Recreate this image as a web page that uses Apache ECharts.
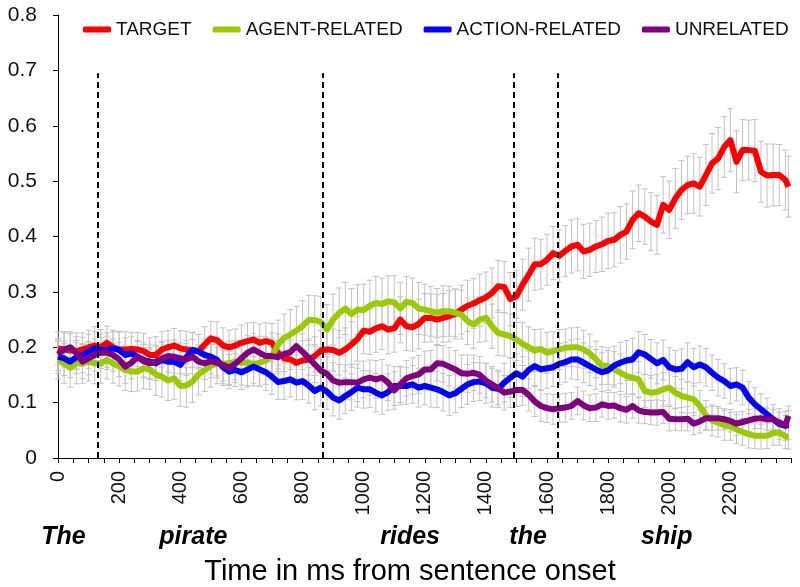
<!DOCTYPE html>
<html><head><meta charset="utf-8">
<script src="https://cdn.jsdelivr.net/npm/echarts@6/dist/echarts.min.js"></script>
<style>html,body{margin:0;padding:0;background:#fff}#c{width:800px;height:587px}</style>
</head><body><div id="c"></div>
<script>
const times = [0,20,40,60,80,100,120,140,160,180,200,220,240,260,280,300,320,340,360,380,400,420,440,460,480,500,520,540,560,580,600,620,640,660,680,700,720,740,760,780,800,820,840,860,880,900,920,940,960,980,1000,1020,1040,1060,1080,1100,1120,1140,1160,1180,1200,1220,1240,1260,1280,1300,1320,1340,1360,1380,1400,1420,1440,1460,1480,1500,1520,1540,1560,1580,1600,1620,1640,1660,1680,1700,1720,1740,1760,1780,1800,1820,1840,1860,1880,1900,1920,1940,1960,1980,2000,2020,2040,2060,2080,2100,2120,2140,2160,2180,2200,2220,2240,2260,2280,2300,2320,2340,2360,2380,2390];

const target = [.198,.196,.194,.193,.196,.200,.203,.200,.208,.200,.196,.196,.197,.196,.193,.186,.186,.196,.200,.203,.198,.196,.195,.193,.205,.216,.213,.203,.200,.203,.208,.211,.214,.208,.211,.208,.190,.180,.178,.172,.176,.178,.184,.194,.196,.195,.190,.196,.205,.215,.230,.228,.234,.238,.232,.234,.250,.238,.236,.242,.253,.253,.250,.253,.256,.260,.268,.275,.279,.285,.290,.298,.310,.309,.287,.292,.313,.331,.350,.350,.358,.370,.365,.374,.382,.385,.373,.376,.382,.386,.392,.394,.403,.409,.430,.442,.436,.427,.421,.457,.448,.469,.484,.493,.496,.490,.511,.532,.541,.562,.574,.535,.556,.556,.555,.517,.510,.511,.511,.502,.490];

const agentRelated = [.177,.171,.163,.171,.171,.174,.171,.171,.177,.171,.165,.159,.156,.156,.162,.160,.151,.147,.140,.144,.130,.131,.138,.151,.159,.166,.171,.170,.171,.174,.172,.172,.170,.172,.176,.184,.205,.217,.223,.230,.238,.249,.249,.246,.232,.250,.262,.270,.260,.268,.267,.275,.280,.278,.283,.281,.270,.282,.280,.270,.268,.265,.262,.265,.265,.262,.259,.247,.241,.250,.253,.238,.226,.223,.220,.214,.206,.200,.194,.197,.190,.193,.196,.199,.200,.200,.196,.189,.178,.167,.166,.160,.154,.148,.145,.142,.121,.118,.119,.124,.127,.118,.112,.109,.106,.094,.077,.068,.064,.059,.057,.052,.047,.043,.040,.040,.040,.045,.046,.039,.038];

const actionRelated = [.183,.180,.174,.182,.186,.192,.198,.195,.195,.198,.195,.186,.189,.183,.177,.174,.171,.177,.174,.174,.168,.182,.195,.192,.186,.183,.177,.164,.156,.159,.155,.160,.165,.160,.155,.147,.137,.139,.142,.136,.139,.131,.121,.127,.120,.109,.104,.112,.119,.127,.124,.124,.118,.113,.119,.130,.130,.130,.133,.127,.130,.127,.124,.119,.113,.117,.125,.133,.137,.138,.135,.127,.125,.136,.145,.153,.147,.159,.166,.160,.162,.164,.170,.173,.178,.178,.172,.166,.160,.155,.158,.167,.172,.176,.178,.191,.187,.179,.171,.177,.164,.160,.161,.173,.164,.169,.164,.154,.145,.139,.130,.133,.127,.109,.097,.088,.079,.070,.061,.058,.060];

const unrelated = [.187,.196,.200,.190,.174,.180,.186,.190,.190,.186,.178,.165,.172,.182,.175,.171,.174,.180,.184,.183,.180,.178,.183,.174,.171,.175,.172,.168,.163,.170,.180,.190,.196,.190,.184,.184,.182,.188,.191,.202,.192,.181,.169,.158,.152,.140,.136,.137,.137,.136,.142,.145,.142,.145,.136,.122,.133,.144,.148,.151,.160,.160,.171,.170,.165,.160,.153,.152,.154,.150,.140,.133,.126,.118,.120,.123,.123,.114,.102,.094,.090,.088,.090,.091,.094,.103,.095,.090,.091,.097,.094,.095,.090,.087,.094,.086,.083,.082,.082,.083,.071,.070,.070,.071,.062,.066,.072,.072,.072,.070,.067,.062,.065,.068,.071,.072,.070,.070,.064,.059,.076];

const targetErr = [.030,.032,.031,.033,.030,.031,.034,.032,.030,.031,.033,.032,.030,.031,.032,
.031,.033,.032,.030,.031,.032,.033,.031,.030,.032,.031,.033,.032,.031,.030,
.032,.033,.031,.034,.033,.035,.034,.036,.035,.034,.036,.037,.035,.036,.038,
.038,.040,.039,.041,.040,.042,.041,.043,.042,.044,.043,.042,.044,.043,.045,
.044,.043,.045,.044,.046,.045,.044,.046,.045,.047,.046,.045,.047,.046,.048,
.047,.046,.048,.047,.045,.046,.048,.047,.046,.048,.047,.049,.048,.047,.049,
.050,.049,.051,.050,.052,.051,.050,.052,.053,.051,.052,.054,.053,.052,.054,
.053,.055,.054,.056,.055,.057,.056,.055,.054,.056,.055,.057,.056,.055,.054,.055];

const agentErr = [.034,.036,.035,.037,.036,.035,.037,.036,.034,.036,.035,.037,.036,.035,.037,
.036,.038,.037,.036,.038,.037,.039,.038,.037,.039,.038,.037,.039,.040,.038,
.040,.041,.040,.042,.043,.042,.044,.043,.045,.044,.046,.045,.044,.046,.045,
.046,.045,.047,.046,.045,.047,.046,.048,.047,.046,.048,.047,.046,.045,.047,
.046,.045,.044,.046,.045,.043,.044,.042,.043,.041,.042,.040,.041,.039,.040,
.038,.039,.037,.038,.036,.037,.035,.036,.034,.035,.036,.034,.035,.033,.034,
.033,.032,.034,.033,.031,.032,.030,.031,.032,.030,.031,.029,.030,.028,.029,
.028,.027,.028,.026,.027,.025,.026,.024,.025,.023,.024,.023,.022,.023,.022,.022];

const actionErr = [.030,.031,.029,.030,.032,.031,.030,.029,.031,.030,.032,.031,.030,.029,.031,
.030,.031,.032,.030,.031,.029,.030,.032,.031,.030,.031,.029,.030,.031,.030,
.031,.032,.030,.031,.033,.032,.031,.033,.032,.031,.033,.032,.034,.033,.032,
.033,.034,.032,.033,.035,.034,.033,.035,.034,.033,.035,.034,.033,.034,.035,
.034,.035,.033,.034,.036,.035,.034,.036,.035,.034,.036,.035,.034,.035,.036,
.035,.036,.034,.035,.037,.036,.035,.037,.036,.035,.037,.036,.035,.036,.035,
.036,.035,.037,.036,.038,.037,.036,.035,.037,.036,.035,.034,.036,.035,.034,
.033,.034,.032,.033,.031,.032,.030,.031,.029,.030,.028,.029,.027,.028,.026,.026];

const unrelatedErr = [.029,.030,.028,.029,.031,.030,.029,.028,.030,.029,.031,.030,.029,.028,.030,
.029,.030,.031,.029,.030,.028,.029,.031,.030,.029,.030,.028,.029,.030,.029,
.030,.031,.029,.030,.032,.031,.030,.032,.031,.030,.032,.031,.033,.032,.031,
.032,.033,.031,.032,.034,.033,.032,.034,.033,.032,.034,.033,.032,.033,.034,
.033,.034,.032,.033,.035,.034,.033,.034,.032,.033,.031,.032,.030,.031,.029,
.030,.028,.029,.027,.028,.026,.027,.025,.026,.024,.025,.026,.024,.025,.023,
.024,.023,.025,.024,.022,.023,.021,.022,.023,.021,.022,.020,.021,.022,.020,
.021,.020,.022,.021,.019,.020,.021,.019,.020,.018,.019,.020,.018,.019,.018,.018];

const seriesNames = ['TARGET','AGENT-RELATED','ACTION-RELATED','UNRELATED'];
const seriesValues = [target, agentRelated, actionRelated, unrelated];
const seriesErrors = [targetErr, agentErr, actionErr, unrelatedErr];
const colors = ['#ff0000','#99cc00','#0000ff','#800080'];

const wordOnsets = [130, 865, 1490, 1635];
const onsetLineTop = 0.695;
const words = ['The','pirate','rides','the','ship'];
const wordTimes = [18, 443, 1152, 1538, 1992];
const xTitle = 'Time in ms from sentence onset';

const FONT = '"Liberation Sans", Arial, sans-serif';
const chart = echarts.init(document.getElementById('c'), null, {renderer:'canvas'});

function errRender(params, api) {
  const x = api.value(0), y = api.value(1), e = api.value(2);
  const top = api.coord([x, y + e]);
  const bot = api.coord([x, y - e]);
  const w = 3;
  const style = {stroke:'#c2c2c2', lineWidth:1, fill:null};
  return {type:'group', children:[
    {type:'line', shape:{x1:top[0],y1:top[1],x2:bot[0],y2:bot[1]}, style:style},
    {type:'line', shape:{x1:top[0]-w,y1:top[1],x2:top[0]+w,y2:top[1]}, style:style},
    {type:'line', shape:{x1:bot[0]-w,y1:bot[1],x2:bot[0]+w,y2:bot[1]}, style:style}
  ]};
}

const series = [];
seriesNames.forEach((name, k) => {
  series.push({
    name: name + ' err', type:'custom', renderItem: errRender, silent:true, z:1,
    dimensions:['t','v','e'], encode:{x:0, y:1},
    data: times.map((t,i) => [t, seriesValues[k][i], seriesErrors[k][i]])
  });
});
seriesNames.forEach((name, k) => {
  const s = {
    name: name, type:'line', showSymbol:false, symbol:'none', z:3,
    color: colors[k],
    lineStyle:{color: colors[k], width:6, join:'round'},
    data: times.map((t,i) => [t, seriesValues[k][i]])
  };
  if (k === seriesNames.length - 1) {
    s.markLine = {
      symbol:'none', silent:true, label:{show:false}, animation:false,
      lineStyle:{color:'#000', type:[6,4], width:2},
      data: wordOnsets.map(t => [{coord:[t,0]},{coord:[t,onsetLineTop]}])
    };
  }
  series.push(s);
});

chart.setOption({
  animation:false,
  backgroundColor:'#fff',
  textStyle:{fontFamily:FONT},
  grid:{left:58, right:8.5, top:15, bottom:129},
  legend:{
    data: seriesNames, left:78, top:15, icon:'roundRect', itemWidth:28, itemHeight:6, itemGap:21,
    textStyle:{fontSize:19, color:'#111', fontFamily:FONT}
  },
  xAxis:{
    type:'value', min:0, max:2400, interval:200,
    axisLine:{show:true, onZero:false, lineStyle:{color:'#000', width:1}},
    axisTick:{show:true, length:5, lineStyle:{color:'#000'}},
    minorTick:{show:true, splitNumber:4, length:5, lineStyle:{color:'#000'}},
    axisLabel:{rotate:90, margin:13, fontSize:20, color:'#111', fontFamily:FONT,
      formatter: v => v === 2400 ? '' : String(v)},
    splitLine:{show:false}
  },
  yAxis:{
    type:'value', min:0, max:0.8, interval:0.1,
    axisLine:{show:true, lineStyle:{color:'#000', width:1}},
    axisTick:{show:true, length:5, lineStyle:{color:'#000'}},
    axisLabel:{margin:21, fontSize:21, color:'#111', fontFamily:FONT,
      formatter: v => String(+v.toFixed(1))},
    splitLine:{show:false}
  },
  series: series
});

const graphics = words.map((w, i) => {
  const px = chart.convertToPixel({gridIndex:0}, [wordTimes[i], 0]);
  return {type:'text', x:px[0], y:537, style:{text:w, fill:'#000', font:'italic bold 25px ' + FONT, textAlign:'center', textVerticalAlign:'middle'}};
});
graphics.push({type:'text', x:410, y:572, style:{text:xTitle, fill:'#000', font:'29px ' + FONT, textAlign:'center', textVerticalAlign:'middle'}});
chart.setOption({graphic: graphics});
</script>
</body></html>
